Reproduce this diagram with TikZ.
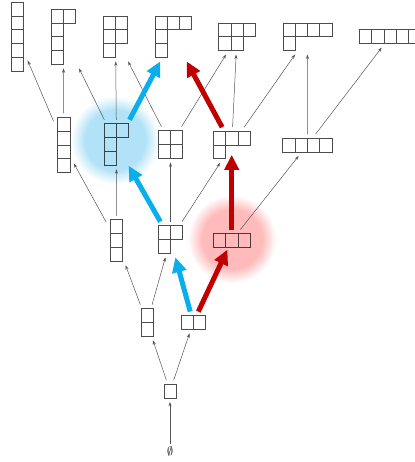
\documentclass[tikz,border=0pt]{standalone}
\usetikzlibrary{arrows.meta,calc,fadings}

\definecolor{cellgray}{HTML}{4D4D4D}
\definecolor{edgegray}{HTML}{555555}
\definecolor{pathblue}{HTML}{0AAEEC}
\definecolor{pathred}{HTML}{C00000}
\definecolor{glowblue}{HTML}{B2E2F7}
\definecolor{glowred}{HTML}{FFBBBB}

% soft-edged disc used as a fading for the two highlights
\pgfdeclareradialshading{softdisc}{\pgfpointorigin}{color(0bp)=(pgftransparent!0); color(17bp)=(pgftransparent!0); color(25bp)=(pgftransparent!100); color(50bp)=(pgftransparent!100)}
\pgfdeclarefading{softdisc}{\pgfuseshading{softdisc}}

% cell size of the Young diagrams
\def\cw{12.3}
\def\ch{13.8}

\tikzset{
  ydbox/.style={rectangle, inner sep=0pt, outer sep=4pt},
  ydcell/.style={draw=cellgray, line width=0.7pt},
  cover/.style={draw=edgegray, line width=0.5pt, -{Stealth[length=4.5pt,width=3pt]}},
  bluepath/.style={draw=pathblue, line width=5pt, -{Triangle[length=15pt,width=14pt]}},
  redpath/.style={draw=pathred, line width=5pt, -{Triangle[length=15pt,width=14pt]}},
  glow/.style={blend mode=multiply, path fading=softdisc}
}

% Young diagram as a named node: name, centre, columns, rows, row lengths from the top
\newcommand\youngnode[5]{%
  \node[ydbox, minimum width=#3*\cw*1pt, minimum height=#4*\ch*1pt] (#1) at (#2) {};
  \foreach \ydlen [count=\ydrow] in {#5} {
    \foreach \ydcol in {1,...,\ydlen} {
      \draw[ydcell] ($(#1.center)+({-#3*\cw/2+(\ydcol-1)*\cw},{-#4*\ch/2+(\ydrow-1)*\ch})$) rectangle ++(\cw,\ch);
    }
  }
}

\begin{document}
\begin{tikzpicture}[x=1pt,y=-1pt]
\useasboundingbox (0,0) rectangle (414,462);

% rank 0 and 1
\node[inner sep=1pt, outer sep=1pt, font=\fontsize{13}{15}\selectfont] (p0) at (170,451) {$\emptyset$};
\youngnode{p1}{170,391}{1}{1}{1}
% rank 2
\youngnode{p11}{147,322.5}{1}{2}{1,1}
\youngnode{p2}{193.2,322.5}{2}{1}{2}
% rank 3
\youngnode{p111}{116.3,240.5}{1}{3}{1,1,1}
\youngnode{p21}{170.5,239.5}{2}{2}{2,1}
\youngnode{p3}{231.7,240.5}{3}{1}{3}
% rank 4
\youngnode{p1111}{63.7,145}{1}{4}{1,1,1,1}
\youngnode{p211}{116.5,144.5}{2}{3}{2,1,1}
\youngnode{p22}{170.5,144.5}{2}{2}{2,2}
\youngnode{p31}{231.7,145}{3}{2}{3,1}
\youngnode{p4}{307.3,145}{4}{1}{4}
% rank 5
\youngnode{p11111}{17.5,36.7}{1}{5}{1,1,1,1,1}
\youngnode{p2111}{63.5,36.7}{2}{4}{2,1,1,1}
\youngnode{p221}{115.5,36.7}{2}{3}{2,2,1}
\youngnode{p311}{173.3,36.7}{3}{3}{3,1,1}
\youngnode{p32}{237,36.7}{3}{2}{3,2}
\youngnode{p41}{307.5,36.7}{4}{2}{4,1}
\youngnode{p5}{390,36.7}{5}{1}{5}

% highlights
\fill[glowblue, glow] (115,140) circle (44);
\fill[glowred, glow] (232,239) circle (44);

% covering relations
\draw[cover] (p0) -- (p1);
\draw[cover] (p1) -- (p11);
\draw[cover] (p1) -- (p2);
\draw[cover] (p11) -- (p111);
\draw[cover] (p11) -- (p21);
\draw[cover] (p111) -- (p1111);
\draw[cover] (p111) -- (p211);
\draw[cover] (p21) -- (p22);
\draw[cover] (p21) -- (p31);
\draw[cover] (p3) -- (p4);
\draw[cover] (p1111) -- (p11111);
\draw[cover] (p1111) -- (p2111);
\draw[cover] (p211) -- (p2111);
\draw[cover] (p211) -- (p221);
\draw[cover] (p22) -- (p221);
\draw[cover] (p22) -- (p32);
\draw[cover] (p31) -- (p32);
\draw[cover] (p31) -- (p41);
\draw[cover] (p4) -- (p41);
\draw[cover] (p4) -- (p5);

% the two highlighted chains
\draw[bluepath] (p2) -- (p21);
\draw[bluepath, shorten >=-4pt] (p21) -- (p211);
\draw[bluepath] (p211) -- (p311);
\draw[redpath, shorten >=-2pt] (p2) -- (p3);
\draw[redpath, shorten >=-8pt] (p3) -- (p31);
\draw[redpath] (p31) -- (p311);
\end{tikzpicture}
\end{document}
